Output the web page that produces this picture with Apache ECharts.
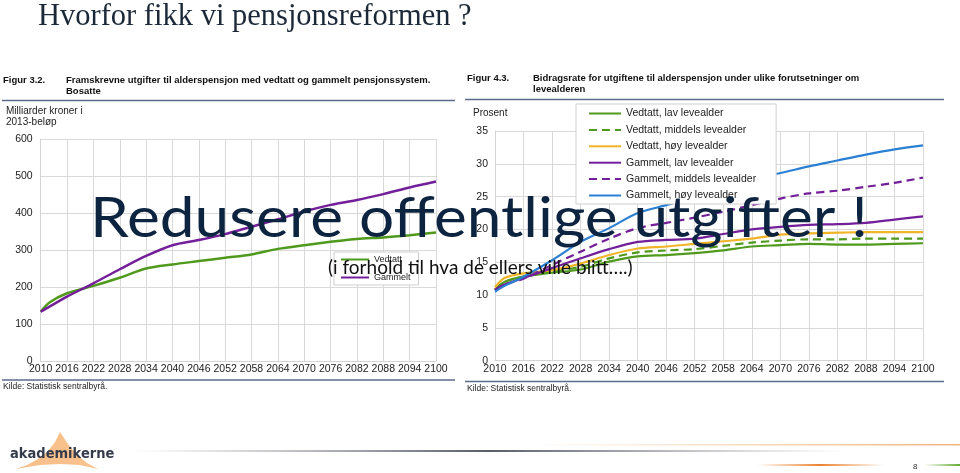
<!DOCTYPE html>
<html>
<head>
<meta charset="utf-8">
<script src="https://cdn.jsdelivr.net/npm/echarts@6/dist/echarts.min.js"></script>
<style>
html,body{margin:0;padding:0;background:#fff;}
#c{width:960px;height:473px;}
</style>
</head>
<body>
<div id="c"></div>
<script>
// ---- data ----
var years = [2010, 2012, 2016, 2022, 2028, 2034, 2040, 2046, 2052, 2058, 2064, 2070, 2076, 2082, 2088, 2094, 2100];
// Figur 3.2 (milliarder kroner)
var vedtatt = [133, 158, 183, 203, 225, 250, 261, 270, 279, 288, 303, 313, 322, 330, 334, 340, 347];
var gammelt = [133, 147, 174, 210, 248, 284, 313, 327, 343, 363, 383, 404, 422, 435, 451, 469, 485];
// Figur 4.3 (prosent)
var vedLav = [10.8, 12.0, 12.8, 13.4, 13.9, 15.1, 15.9, 16.1, 16.4, 16.8, 17.4, 17.6, 17.8, 17.7, 17.7, 17.8, 17.9];
var vedMid = [10.8, 12.0, 12.8, 13.6, 14.3, 15.6, 16.5, 16.8, 17.0, 17.5, 18.0, 18.3, 18.5, 18.5, 18.6, 18.6, 18.6];
var vedHoy = [11.2, 12.6, 13.3, 13.8, 14.8, 16.1, 17.1, 17.4, 17.8, 18.2, 18.6, 19.2, 19.4, 19.5, 19.6, 19.6, 19.6];
var gamLav = [10.8, 11.6, 12.6, 14.1, 15.6, 17.0, 18.1, 18.4, 18.6, 19.3, 20.0, 20.4, 20.7, 20.8, 21.0, 21.5, 22.0];
var gamMid = [10.8, 11.6, 12.5, 14.6, 16.6, 18.6, 20.2, 21.0, 21.8, 22.7, 23.7, 24.7, 25.5, 25.9, 26.5, 27.1, 27.9];
var gamHoy = [10.5, 11.4, 12.8, 15.3, 18.1, 20.2, 22.5, 23.7, 25.0, 26.4, 27.7, 28.6, 29.6, 30.5, 31.4, 32.2, 32.8];

var leftNames = ['Vedtatt', 'Gammelt'];
var rightNames = ['Vedtatt, lav levealder', 'Vedtatt, middels levealder', 'Vedtatt, høy levealder',
                  'Gammelt, lav levealder', 'Gammelt, middels levealder', 'Gammelt, høy levealder'];

function pairs(vals) { return years.map(function (y, i) { return [y, vals[i]]; }); }

var GREEN = '#4f9a1c', PURPLE = '#731f9a', YELLOW = '#f0b429', BLUE = '#2b80d3';
var F = 'Liberation Sans, Arial, sans-serif';

function mkSeries(name, vals, axis, color, dashed, w) {
  return {
    name: name, type: 'line', xAxisIndex: axis, yAxisIndex: axis,
    data: pairs(vals), symbol: 'none', smooth: 0.3, silent: true,
    lineStyle: { color: color, width: w, type: dashed ? [8, 5] : 'solid' },
    itemStyle: { color: color }, z: 3
  };
}

function axis(extra, margin) {
  var a = {
    axisTick: { show: false },
    axisLine: { show: true, lineStyle: { color: '#d4d4d4', width: 1 } },
    splitLine: { show: true, lineStyle: { color: '#d9d9d9', width: 1 } },
    axisLabel: { color: '#222', fontFamily: F, fontSize: 10.5, margin: margin,
      formatter: function (v) { return String(v); } }
  };
  for (var k in extra) a[k] = extra[k];
  return a;
}

function hGrad(x, y, w, h, stops) {
  return { type: 'rect', z: 90, shape: { x: x, y: y, width: w, height: h },
    style: { fill: { type: 'linear', x: 0, y: 0, x2: 1, y2: 0, colorStops: stops } } };
}

var chart = echarts.init(document.getElementById('c'), null, { renderer: 'canvas' });

var option = {
  animation: false,
  backgroundColor: '#fff',
  grid: [
    { left: 40.7, top: 139, width: 395.3, height: 222, containLabel: false },
    { left: 495, top: 131, width: 428, height: 229.7, containLabel: false }
  ],
  xAxis: [
    axis({ type: 'value', gridIndex: 0, min: 2010, max: 2100, interval: 6 }, 3),
    axis({ type: 'value', gridIndex: 1, min: 2010, max: 2100, interval: 6 }, 3)
  ],
  yAxis: [
    axis({ type: 'value', gridIndex: 0, min: 0, max: 600, interval: 100 }, 8),
    axis({ type: 'value', gridIndex: 1, min: 0, max: 35, interval: 5 }, 7)
  ],
  legend: [
    {
      data: leftNames, orient: 'vertical', left: 334, top: 252,
      itemWidth: 28, itemHeight: 8, itemGap: 9, selectedMode: false,
      itemStyle: { opacity: 0 },
      padding: [3, 8, 3, 6], backgroundColor: '#fff', borderColor: '#cfcfcf', borderWidth: 1,
      textStyle: { fontFamily: F, fontSize: 9, color: '#222' }, z: 5
    },
    {
      data: rightNames, orient: 'vertical', left: 576, top: 104,
      itemWidth: 32, itemHeight: 10, itemGap: 5.4, selectedMode: false,
      itemStyle: { opacity: 0 },
      padding: [4, 20, 3, 12], backgroundColor: '#fff', borderColor: '#cfcfcf', borderWidth: 1,
      textStyle: { fontFamily: F, fontSize: 10.5, color: '#222' }, z: 5
    }
  ],
  series: [
    mkSeries(leftNames[0], vedtatt, 0, GREEN, false, 2.5),
    mkSeries(leftNames[1], gammelt, 0, PURPLE, false, 2.5),
    mkSeries(rightNames[0], vedLav, 1, GREEN, false, 2.2),
    mkSeries(rightNames[1], vedMid, 1, GREEN, true, 2.2),
    mkSeries(rightNames[2], vedHoy, 1, YELLOW, false, 2.2),
    mkSeries(rightNames[3], gamLav, 1, PURPLE, false, 2.2),
    mkSeries(rightNames[4], gamMid, 1, PURPLE, true, 2.2),
    mkSeries(rightNames[5], gamHoy, 1, BLUE, false, 2.2)
  ],
  graphic: { elements: [
    // slide title
    { type: 'text', x: 38, y: 17, z: 100,
      style: { text: 'Hvorfor fikk vi pensjonsreformen ?', font: '30.5px "Liberation Serif", serif', fill: '#1b2838', textVerticalAlign: 'middle' } },
    // left figure header
    { type: 'text', x: 3, y: 80.7, z: 100,
      style: { text: 'Figur 3.2.', font: 'bold 9.5px ' + F, fill: '#111', textVerticalAlign: 'middle' } },
    { type: 'text', x: 66, y: 80.7, z: 100,
      style: { text: 'Framskrevne utgifter til alderspensjon med vedtatt og gammelt pensjonssystem.', font: 'bold 9.5px ' + F, fill: '#111', textVerticalAlign: 'middle' } },
    { type: 'text', x: 66, y: 91.5, z: 100,
      style: { text: 'Bosatte', font: 'bold 9.5px ' + F, fill: '#111', textVerticalAlign: 'middle' } },
    { type: 'line', z: 100, shape: { x1: 2, y1: 100.5, x2: 455, y2: 100.5 }, style: { stroke: '#5b6b8c', lineWidth: 1.5 } },
    { type: 'text', x: 6, y: 111.7, z: 100,
      style: { text: 'Milliarder kroner i', font: '10px ' + F, fill: '#222', textVerticalAlign: 'middle' } },
    { type: 'text', x: 6, y: 122.5, z: 100,
      style: { text: '2013-beløp', font: '10px ' + F, fill: '#222', textVerticalAlign: 'middle' } },
    { type: 'line', z: 100, shape: { x1: 2, y1: 380, x2: 455, y2: 380 }, style: { stroke: '#5b6b8c', lineWidth: 1.5 } },
    { type: 'text', x: 3, y: 387, z: 100,
      style: { text: 'Kilde: Statistisk sentralbyrå.', font: '8.5px ' + F, fill: '#222', textVerticalAlign: 'middle' } },
    // right figure header
    { type: 'text', x: 467, y: 78.3, z: 100,
      style: { text: 'Figur 4.3.', font: 'bold 9.5px ' + F, fill: '#111', textVerticalAlign: 'middle' } },
    { type: 'text', x: 533, y: 78.3, z: 100,
      style: { text: 'Bidragsrate for utgiftene til alderspensjon under ulike forutsetninger om', font: 'bold 9.5px ' + F, fill: '#111', textVerticalAlign: 'middle' } },
    { type: 'text', x: 533, y: 89.3, z: 100,
      style: { text: 'levealderen', font: 'bold 9.5px ' + F, fill: '#111', textVerticalAlign: 'middle' } },
    { type: 'line', z: 100, shape: { x1: 465, y1: 99.5, x2: 944, y2: 99.5 }, style: { stroke: '#5b6b8c', lineWidth: 1.5 } },
    { type: 'text', x: 473, y: 113.3, z: 100,
      style: { text: 'Prosent', font: '10px ' + F, fill: '#222', textVerticalAlign: 'middle' } },
    { type: 'line', z: 100, shape: { x1: 465, y1: 381.5, x2: 944, y2: 381.5 }, style: { stroke: '#5b6b8c', lineWidth: 1.5 } },
    { type: 'text', x: 467, y: 389, z: 100,
      style: { text: 'Kilde: Statistisk sentralbyrå.', font: '8.5px ' + F, fill: '#222', textVerticalAlign: 'middle' } },
    // overlay message
    { type: 'text', x: 90, y: 219, z: 110, scaleX: 1.11,
      style: { text: 'Redusere offentlige utgifter !', font: '56px Lato, "Open Sans", sans-serif', fill: '#0d2441', textVerticalAlign: 'middle' } },
    { type: 'text', x: 328, y: 268, z: 110,
      style: { text: '(i forhold til hva de ellers ville blitt\u2026.)', font: '19px Lato, "Open Sans", sans-serif', fill: '#111', textVerticalAlign: 'middle' } },
    // footer decorations
    hGrad(133, 450, 711, 2, [{ offset: 0, color: 'rgba(120,125,135,0)' }, { offset: 0.5, color: 'rgba(70,75,85,0.9)' }, { offset: 1, color: 'rgba(120,125,135,0)' }]),
    hGrad(529, 444, 431, 1.5, [{ offset: 0, color: 'rgba(240,170,100,0)' }, { offset: 1, color: 'rgba(240,160,90,0.8)' }]),
    hGrad(757, 464, 127, 2, [{ offset: 0, color: 'rgba(240,140,60,0)' }, { offset: 0.5, color: 'rgba(235,130,50,1)' }, { offset: 1, color: 'rgba(240,140,60,0)' }]),
    hGrad(924, 464, 36, 2, [{ offset: 0, color: 'rgba(110,180,60,0)' }, { offset: 1, color: 'rgba(100,170,50,1)' }]),
    { type: 'text', x: 913, y: 467, z: 100,
      style: { text: '8', font: '8px ' + F, fill: '#333', textVerticalAlign: 'middle' } },
    // logo
    { type: 'polygon', z: 95,
      shape: { points: [[60, 432], [55, 442], [48, 451], [38, 459], [27, 465], [16, 469], [40, 465], [60, 464], [80, 465], [98, 469], [87, 463], [77, 455], [68, 444]] },
      style: { fill: '#f8c18c' } },
    { type: 'text', x: 10, y: 454, z: 100, scaleX: 0.9,
      style: { text: 'akademikerne', font: 'bold 14.5px "DejaVu Sans", sans-serif', fill: '#353b4b', textVerticalAlign: 'middle' } }
  ] }
};
chart.setOption(option);
</script>
</body>
</html>
